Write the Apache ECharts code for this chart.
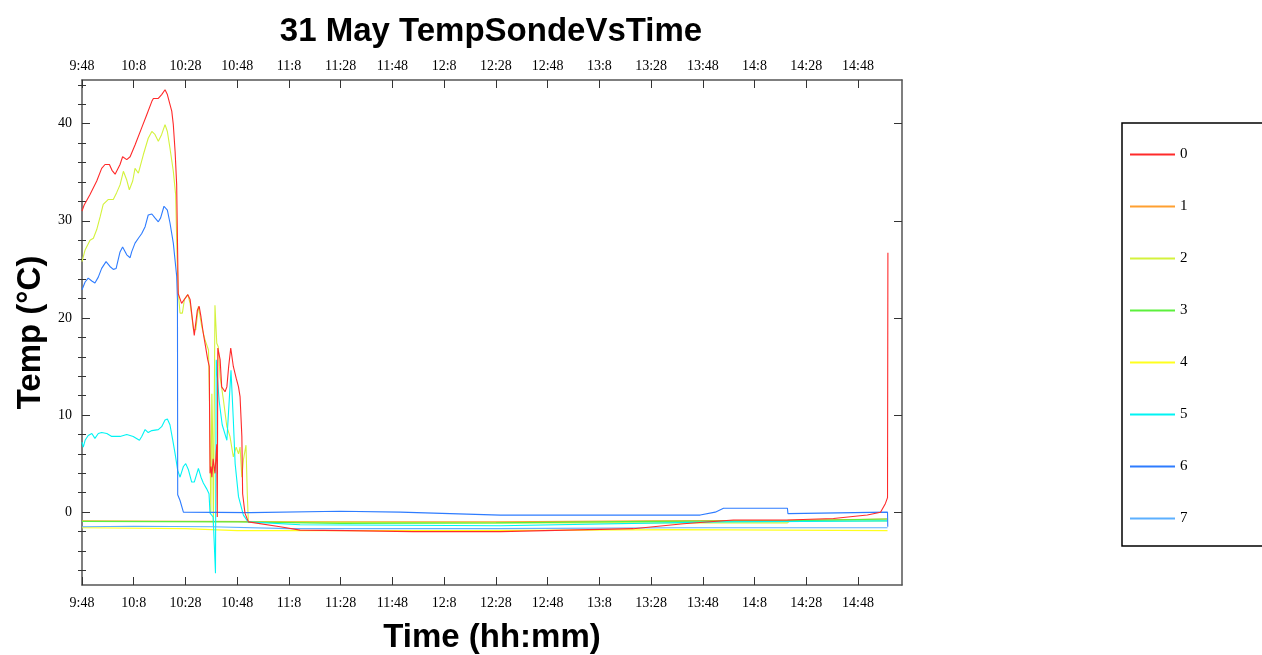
<!DOCTYPE html>
<html>
<head>
<meta charset="utf-8">
<script src="https://cdn.jsdelivr.net/npm/echarts@6/dist/echarts.min.js"></script>
<style>
  html, body { margin:0; padding:0; background:#fff; }
  #chart { width:1262px; height:655px; }
</style>
</head>
<body>
<div id="chart"></div>
<script>
// === Ejes: minutos desde 9:48 ===
const X_TICKS = [0, 20, 40, 60, 80, 100, 120, 140, 160, 180, 200, 220, 240, 260, 280, 300];
const X_LABELS = ['9:48','10:8','10:28','10:48','11:8','11:28','11:48','12:8','12:28','12:48','13:8','13:28','13:48','14:8','14:28','14:48'];
const Y_MAJOR = [0, 10, 20, 30, 40];
const Y_MINOR = [-6, -4, -2, 2, 4, 6, 8, 12, 14, 16, 18, 22, 24, 26, 28, 32, 34, 36, 38, 42, 44];

const NAMES = ['0','1','2','3','4','5','6','7'];
const COLORS = ['#ff2a2a','#ffa030','#d4f23c','#5cf03c','#ffff1e','#00f4f4','#2e7cff','#5cb0ff'];

// === Series [min, °C] ===
const S0 = [[0,31.0],[0.8,31.6],[3.1,32.7],[5.7,34.1],[7.6,35.4],[8.9,35.8],[10.6,35.8],[11.6,35.2],[12.8,34.8],
  [14.7,35.8],[15.7,36.6],[17.3,36.3],[18.6,36.6],[20.5,37.8],[23.1,39.6],[25.0,40.9],[27.0,42.3],[27.6,42.6],
  [29.5,42.6],[30.8,43.0],[32.1,43.5],[33.0,43.0],[34.0,42.0],[34.7,41.3],[35.3,39.9],[36.0,37.1],[36.6,33.7],
  [36.9,28.0],[37.2,22.5],[38.5,21.5],[39.8,22.0],[40.9,22.4],[41.8,21.9],[42.4,20.5],[43.4,18.2],[44.0,18.1],
  [44.6,20.8],[45.3,21.2],[46.0,20.1],[46.9,18.4],[47.8,17.0],[48.6,15.7],[49.2,15.0],[49.5,4.0],[49.9,4.7],
  [50.2,3.6],[50.7,5.5],[51.4,4.0],[52.1,7.0],[52.3,-0.5],[52.5,16.9],[53.1,16.9],[53.4,15.7],[54.0,12.9],
  [55.3,12.4],[56.0,12.9],[56.7,15.0],[57.5,16.9],[58.5,15.0],[59.6,13.8],[60.5,12.9],[61.1,11.9],[61.8,7.8],
  [62.1,1.9],[63.0,-0.1],[64.3,-1.0],[76.6,-1.5],[84.3,-1.85],[102.4,-1.9],[128.0,-2.0],[161.7,-2.0],
  [213.1,-1.7],[232.5,-1.2],[251.8,-0.8],[272.7,-0.8],[290.5,-0.65],[303.6,-0.3],[308.7,0.0],[310.6,0.9],
  [311.4,1.5],[311.55,26.7]];
const S1 = [[0,-0.9],[40,-0.95],[100,-1.0],[160,-1.0],[220,-0.9],[272.7,-0.85],[273,-0.75],[311.4,-0.7]];
const S2 = [[0,25.8],[1.2,27.0],[3.1,28.0],[4.4,28.2],[5.7,29.1],[7.0,30.4],[8.2,31.7],[10.2,32.2],[12.1,32.2],
  [13.4,32.9],[14.7,33.7],[16.0,35.1],[17.3,34.2],[18.3,33.2],[19.6,34.1],[20.5,35.4],[21.8,34.9],[23.7,36.8],
  [25.6,38.5],[27.0,39.2],[28.2,38.9],[29.5,38.2],[30.8,38.9],[32.1,39.9],[33.0,39.2],[34.0,37.5],[35.3,35.1],
  [36.2,32.7],[36.7,27.0],[37.1,23.0],[37.9,20.5],[38.8,20.5],[39.6,21.9],[40.9,22.4],[41.8,21.5],[43.1,18.8],
  [44.0,18.8],[45.0,21.2],[46.3,19.1],[47.6,17.7],[48.9,16.7],[49.2,12.9],[49.5,6.7],[49.8,-0.1],[50.2,12.2],
  [50.5,8.0],[50.8,-1.5],[51.1,10.0],[51.4,21.3],[52.1,17.4],[52.7,17.0],[53.4,13.9],[54.7,11.5],[56.0,8.8],
  [57.2,7.8],[58.5,5.7],[59.6,6.7],[60.5,6.0],[61.1,6.7],[61.8,3.6],[62.4,5.4],[63.4,6.9],[63.9,1.9],[64.3,-1.0],
  [100,-1.05],[161.7,-1.1],[272.7,-1.1],[273.9,-0.9],[311.4,-0.9]];
const S3 = [[0,-0.95],[60,-1.0],[100,-1.15],[160,-1.1],[220,-0.95],[272.7,-0.9],[273,-0.7],[311.4,-0.7]];
const S4 = [[0,-1.6],[40,-1.7],[60,-1.9],[150,-1.9],[230,-1.8],[311.4,-1.9]];
const S5 = [[0,7.2],[0.5,6.7],[1.2,7.4],[2.4,7.9],[3.8,8.1],[5.0,7.6],[6.3,8.1],[7.6,8.2],[9.6,8.1],[11.5,7.8],
  [14.7,7.8],[17.3,8.0],[19.8,7.8],[22.2,7.4],[23.1,7.8],[24.4,8.5],[25.6,8.2],[27.0,8.4],[29.5,8.5],[30.8,8.8],
  [32.1,9.5],[33.0,9.6],[34.0,9.0],[35.1,7.4],[36.0,6.0],[37.0,4.3],[37.9,3.6],[39.2,4.7],[40.1,5.0],[41.1,4.4],
  [42.4,3.1],[43.4,3.1],[45.0,4.5],[46.0,3.6],[46.9,3.0],[48.2,2.4],[49.1,1.9],[49.5,-0.1],[50.7,-0.5],
  [51.6,-6.3],[51.9,15.7],[53.0,11.5],[54.2,9.0],[56.0,7.4],[57.6,14.6],[58.5,9.5],[59.2,5.0],[60.5,1.6],
  [62.4,-0.3],[64.2,-1.0],[84.3,-1.3],[161.7,-1.4],[246.8,-1.0],[311.4,-0.9]];
const S6 = [[0,22.9],[1.2,23.7],[2.4,24.1],[3.8,23.8],[5.0,23.6],[6.3,24.2],[7.6,25.1],[9.3,25.8],[10.8,25.3],
  [12.1,25.0],[13.2,25.1],[14.7,26.8],[15.7,27.3],[17.3,26.5],[18.6,26.2],[19.2,26.8],[20.5,27.7],[21.8,28.2],
  [23.1,28.7],[24.4,29.4],[25.6,30.6],[27.0,30.7],[28.2,30.3],[29.5,29.9],[30.4,30.3],[31.7,31.5],[33.0,31.1],
  [34.0,29.8],[35.3,27.7],[36.6,24.3],[36.9,21.9],[37.0,1.8],[37.9,1.2],[39.2,0.0],[65,-0.05],[99.8,0.1],
  [123,0.0],[161.7,-0.3],[239,-0.3],[244.8,0.0],[248,0.4],[272.7,0.4],[272.9,-0.15],[311.4,0.0],[311.5,-1.5]];
const S7 = [[0,-1.5],[20,-1.45],[50,-1.5],[80,-1.7],[160,-1.7],[230,-1.6],[311.4,-1.6]];
const SERIES = [S0, S1, S2, S3, S4, S5, S6, S7];

// === Estilo ===
const frame = { show:true, onZero:false, lineStyle:{ color:'#555', width:1.5 } };
const tickFont = { color:'#000', fontFamily:'Liberation Serif', fontSize:14 };
const nameFont = { color:'#000', fontFamily:'Liberation Sans', fontSize:33, fontWeight:'bold' };
const xLabel = v => X_LABELS[X_TICKS.indexOf(v)] ?? '';

function xAxis(pos, withName){
  return {
    type:'value', position:pos, min:0, max:317,
    axisLine: frame, splitLine:{ show:false },
    axisTick:{ inside:true, length:8, customValues:X_TICKS, lineStyle:{ color:'#333' } },
    axisLabel:{ customValues:X_TICKS, formatter:xLabel, margin: pos==='top' ? 7 : 11, ...tickFont },
    name: withName ? 'Time (hh:mm)' : '', nameLocation:'middle', nameGap:36, nameTextStyle:nameFont
  };
}
function yAxis(pos, vals, len, opts){
  return Object.assign({
    type:'value', position:pos, min:-7.5, max:44.5,
    axisLine: frame, splitLine:{ show:false },
    axisTick:{ inside:true, length:len, customValues:vals, lineStyle:{ color:'#333' } },
    axisLabel:{ show:false }
  }, opts || {});
}

const option = {
  animation:false,
  backgroundColor:'#fff',
  title:{ text:'31 May TempSondeVsTime', left:491, top:15, textAlign:'center', padding:0, textStyle:nameFont },
  grid:{ left:82, right:360, top:80, bottom:70, outerBoundsMode:'none', containLabel:false },
  legend:{
    data:NAMES, orient:'vertical', left:1122, top:123,
    padding:[24, 90, 20, 8], itemGap:37, itemWidth:45, itemHeight:2, icon:'rect',
    borderColor:'#000', borderWidth:1.5,
    textStyle:{ color:'#000', fontFamily:'Liberation Serif', fontSize:15 }
  },
  xAxis:[ xAxis('bottom', true), xAxis('top', false) ],
  yAxis:[
    yAxis('left', Y_MAJOR, 8, {
      axisLabel:{ show:true, customValues:Y_MAJOR, margin:10, ...tickFont },
      name:'Temp (°C)', nameLocation:'middle', nameGap:34, nameTextStyle:nameFont
    }),
    yAxis('left', Y_MINOR, 4, { axisLine:{ show:false } }),
    yAxis('right', Y_MAJOR, 8),
    yAxis('right', Y_MINOR, 4, { axisLine:{ show:false } })
  ],
  series: SERIES.map((d, i) => ({
    name:NAMES[i], type:'line', data:d, xAxisIndex:0, yAxisIndex:0,
    symbol:'none', color:COLORS[i], lineStyle:{ width:1.1, color:COLORS[i] },
    z: i === 0 ? 3 : 2
  }))
};

echarts.init(document.getElementById('chart')).setOption(option);
</script>
</body>
</html>
